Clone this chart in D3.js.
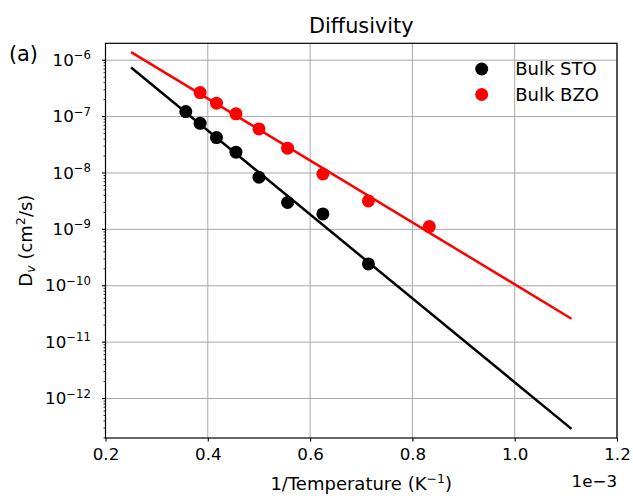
<!DOCTYPE html>
<html>
<head>
<meta charset="utf-8">
<script src="https://cdn.jsdelivr.net/npm/d3@7"></script>
<style>
  body { margin: 0; background: #fff; }
  svg { font-family: "DejaVu Sans", sans-serif; }
</style>
</head>
<body>
<div id="chart"></div>
<script>
// Data: 1/T in units of 1e-3 K^-1, D_v in cm^2/s
const stoInvT = [0.357, 0.385, 0.417, 0.455, 0.5, 0.556, 0.625, 0.714];
const stoD = [1.23e-7, 7.6e-8, 4.25e-8, 2.34e-8, 8.4e-9, 3.0e-9, 1.88e-9, 2.44e-10];
const bzoInvT = [0.385, 0.417, 0.455, 0.5, 0.556, 0.625, 0.714, 0.833];
const bzoD = [2.67e-7, 1.73e-7, 1.12e-7, 6.05e-8, 2.75e-8, 9.6e-9, 3.2e-9, 1.12e-9];
// Arrhenius fit lines (end points)
const fitInvT = [0.25, 1.111];
const stoFitD = [7.4e-7, 2.9e-13];
const bzoFitD = [1.39e-6, 2.6e-11];
const xTicks = [0.2, 0.4, 0.6, 0.8, 1.0, 1.2];
const yTickExp = [-6, -7, -8, -9, -10, -11, -12];
const seriesNames = ["Bulk STO", "Bulk BZO"];
const seriesColors = ["#000000", "#ff0000"];

const width = 633;
const height = 496;
const plot = { left: 105.5, right: 617, top: 43.3, bottom: 438 };

const x = d3.scaleLinear().domain([0.2, 1.2]).range([plot.left, plot.right]);
const y = d3.scaleLog().domain([Math.pow(10, -12.7), Math.pow(10, -5.7)]).range([plot.bottom, plot.top]);

const svg = d3.select("#chart").append("svg")
  .attr("width", width)
  .attr("height", height);

// Grid
const grid = svg.append("g").attr("stroke", "#a8a8a8").attr("stroke-width", 1);
grid.selectAll(".gx").data(xTicks).enter().append("line")
  .attr("x1", d => x(d)).attr("x2", d => x(d))
  .attr("y1", plot.top).attr("y2", plot.bottom);
grid.selectAll(".gy").data(yTickExp).enter().append("line")
  .attr("x1", plot.left).attr("x2", plot.right)
  .attr("y1", d => y(Math.pow(10, d))).attr("y2", d => y(Math.pow(10, d)));

// Fit lines
const line = d3.line().x(d => x(d[0])).y(d => y(d[1]));
[stoFitD, bzoFitD].forEach((fit, i) => {
  svg.append("path")
    .datum(fitInvT.map((t, j) => [t, fit[j]]))
    .attr("d", line)
    .attr("fill", "none")
    .attr("stroke", seriesColors[i])
    .attr("stroke-width", 2.5);
});

// Points
[[stoInvT, stoD], [bzoInvT, bzoD]].forEach(([xs, ys], i) => {
  svg.append("g").selectAll("circle")
    .data(xs.map((t, j) => [t, ys[j]]))
    .enter().append("circle")
    .attr("cx", d => x(d[0]))
    .attr("cy", d => y(d[1]))
    .attr("r", 6.5)
    .attr("fill", seriesColors[i]);
});

// X axis
const xAxis = svg.append("g")
  .attr("transform", `translate(0,${plot.bottom})`)
  .call(d3.axisBottom(x).tickValues(xTicks).tickFormat(d3.format(".1f")).tickSize(3.5).tickPadding(7));
xAxis.select(".domain").remove();
xAxis.selectAll("text").attr("font-size", 16.7).attr("font-family", "DejaVu Sans").attr("fill", "#000");
xAxis.selectAll("line").attr("stroke-width", 1.1);

// Y axis, major + minor log ticks
const minor = [];
for (let e = -13; e <= -6; e++) {
  for (let k = 2; k <= 9; k++) {
    const v = k * Math.pow(10, e);
    if (v > y.domain()[0] && v < y.domain()[1]) minor.push(v);
  }
}
const yAxis = svg.append("g").attr("transform", `translate(${plot.left},0)`);
yAxis.selectAll(".minor").data(minor).enter().append("line")
  .attr("x1", -2).attr("x2", 0)
  .attr("y1", d => y(d)).attr("y2", d => y(d))
  .attr("stroke", "#000").attr("stroke-width", 0.8);
yAxis.selectAll(".major").data(yTickExp).enter().append("line")
  .attr("x1", -3.5).attr("x2", 0)
  .attr("y1", d => y(Math.pow(10, d))).attr("y2", d => y(Math.pow(10, d)))
  .attr("stroke", "#000").attr("stroke-width", 1.1);
const yLabels = yAxis.selectAll(".lab").data(yTickExp).enter().append("text")
  .attr("x", -14.5)
  .attr("y", d => y(Math.pow(10, d)) + 5.7)
  .attr("text-anchor", "end")
  .attr("font-size", 16.7);
yLabels.append("tspan").text("10");
yLabels.append("tspan").attr("dy", -6.7).attr("font-size", 11.7).text(d => "\u2212" + Math.abs(d));

// Frame
svg.append("rect")
  .attr("x", plot.left).attr("y", plot.top)
  .attr("width", plot.right - plot.left).attr("height", plot.bottom - plot.top)
  .attr("fill", "none").attr("stroke", "#000").attr("stroke-width", 1.2);

// Title and labels
svg.append("text")
  .attr("x", (plot.left + plot.right) / 2).attr("y", 33)
  .attr("text-anchor", "middle").attr("font-size", 20.8)
  .text("Diffusivity");
svg.append("text")
  .attr("x", 9).attr("y", 61)
  .attr("font-size", 20.8)
  .text("(a)");

const xl = svg.append("text")
  .attr("x", (plot.left + plot.right) / 2).attr("y", 490)
  .attr("text-anchor", "middle").attr("font-size", 18);
xl.append("tspan").text("1/Temperature (K");
xl.append("tspan").attr("dy", -7).attr("font-size", 12.6).text("\u22121");
xl.append("tspan").attr("dy", 7).text(")");

svg.append("text")
  .attr("x", plot.right).attr("y", 487)
  .attr("text-anchor", "end").attr("font-size", 16.7)
  .text("1e\u22123");

const yl = svg.append("text")
  .attr("transform", `translate(31.5,${(plot.top + plot.bottom) / 2}) rotate(-90)`)
  .attr("text-anchor", "middle").attr("font-size", 18);
yl.append("tspan").text("D");
yl.append("tspan").attr("dy", 3).attr("font-size", 12.6).attr("font-style", "italic").text("v");
yl.append("tspan").attr("dy", -3).text(" (cm");
yl.append("tspan").attr("dy", -7).attr("font-size", 12.6).text("2");
yl.append("tspan").attr("dy", 7).text("/s)");

// Legend (no frame)
const legend = svg.append("g").selectAll("g").data(seriesNames).enter().append("g")
  .attr("transform", (d, i) => `translate(481.7,${69 + i * 25.5})`);
legend.append("circle").attr("r", 6.5).attr("fill", (d, i) => seriesColors[i]);
legend.append("text").attr("x", 33.5).attr("y", 6).attr("font-size", 18).text(d => d);
</script>
</body>
</html>
